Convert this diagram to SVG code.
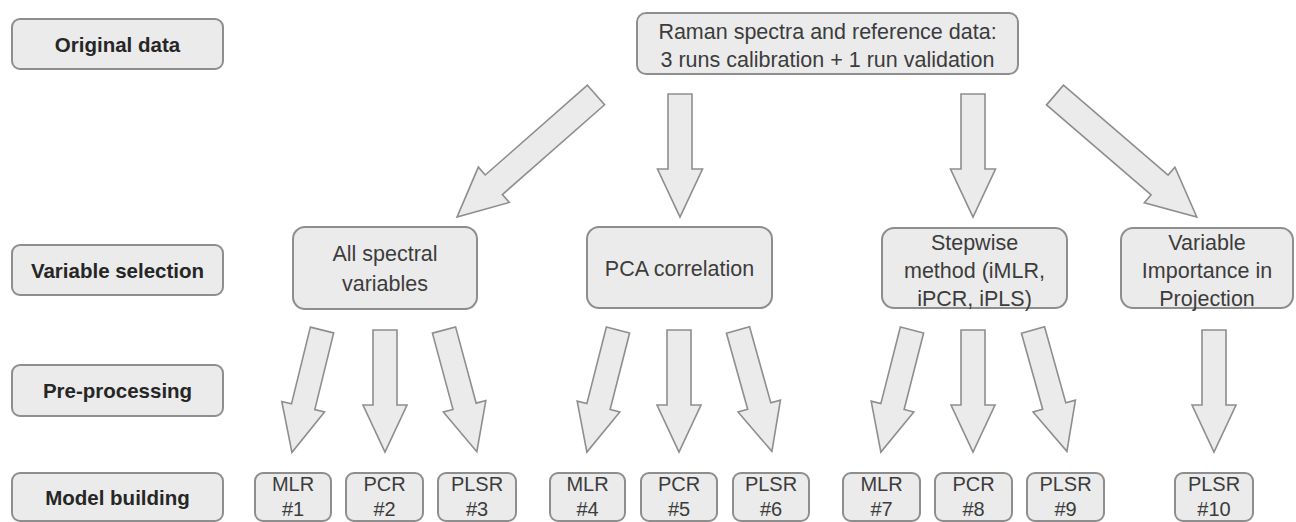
<svg xmlns="http://www.w3.org/2000/svg" width="1296" height="522" viewBox="0 0 1296 522">
<style>
.box{fill:#ebebeb;stroke:#8e8e8e;stroke-width:2}
.arr{fill:#ebebeb;stroke:#8e8e8e;stroke-width:1.6;stroke-linejoin:miter}
.lbl{font-family:"Liberation Sans",Arial,sans-serif;font-size:20.5px;font-weight:bold;fill:#262626;text-anchor:middle}
.t{font-family:"Liberation Sans",Arial,sans-serif;font-size:21.5px;fill:#3c3c3c;text-anchor:middle}
.m{font-family:"Liberation Sans",Arial,sans-serif;font-size:20px;fill:#3c3c3c;text-anchor:middle}
</style>
<rect width="1296" height="522" fill="#ffffff"/>
<g id="row-labels">
<g id="lbl-original"><rect class="box" x="12" y="19" width="211" height="50" rx="8"/><text class="lbl" x="117.5" y="51.5">Original data</text></g>
<g id="lbl-varsel"><rect class="box" x="12" y="245" width="211" height="50" rx="8"/><text class="lbl" x="117.5" y="277.5">Variable selection</text></g>
<g id="lbl-preproc"><rect class="box" x="12" y="365" width="211" height="51" rx="8"/><text class="lbl" x="117.5" y="398">Pre-processing</text></g>
<g id="lbl-model"><rect class="box" x="12" y="473" width="211" height="48" rx="8"/><text class="lbl" x="117.5" y="504.5">Model building</text></g>
</g>
<g id="n-top"><rect class="box" x="637" y="13" width="381" height="61" rx="9"/><text class="t" x="827.5" y="38.5">Raman spectra and reference data:</text><text class="t" x="827.5" y="66.5">3 runs calibration + 1 run validation</text></g>
<g id="n-all"><rect class="box" x="293" y="227" width="184" height="82" rx="12"/><text class="t" x="385" y="260.5">All spectral</text><text class="t" x="385" y="290.5">variables</text></g>
<g id="n-pca"><rect class="box" x="587" y="227" width="185" height="81" rx="12"/><text class="t" x="679.5" y="276">PCA correlation</text></g>
<g id="n-step"><rect class="box" x="882" y="228" width="185" height="80" rx="12"/><text class="t" x="974.5" y="249.5">Stepwise</text><text class="t" x="974.5" y="277.5">method (iMLR,</text><text class="t" x="974.5" y="305.5">iPCR, iPLS)</text></g>
<g id="n-vip"><rect class="box" x="1121" y="228" width="172" height="80" rx="12"/><text class="t" x="1207" y="249.5">Variable</text><text class="t" x="1207" y="277.5">Importance in</text><text class="t" x="1207" y="305.5">Projection</text></g>
<g id="n-m1"><rect class="box" x="255" y="473" width="76" height="48" rx="8"/><text class="m" x="293" y="491">MLR</text><text class="m" x="293" y="516">#1</text></g>
<g id="n-m2"><rect class="box" x="346" y="473" width="77" height="48" rx="8"/><text class="m" x="384.5" y="491">PCR</text><text class="m" x="384.5" y="516">#2</text></g>
<g id="n-m3"><rect class="box" x="438" y="473" width="78" height="48" rx="8"/><text class="m" x="477" y="491">PLSR</text><text class="m" x="477" y="516">#3</text></g>
<g id="n-m4"><rect class="box" x="550" y="473" width="75" height="48" rx="8"/><text class="m" x="587.5" y="491">MLR</text><text class="m" x="587.5" y="516">#4</text></g>
<g id="n-m5"><rect class="box" x="641" y="473" width="76" height="48" rx="8"/><text class="m" x="679" y="491">PCR</text><text class="m" x="679" y="516">#5</text></g>
<g id="n-m6"><rect class="box" x="733" y="473" width="76" height="48" rx="8"/><text class="m" x="771" y="491">PLSR</text><text class="m" x="771" y="516">#6</text></g>
<g id="n-m7"><rect class="box" x="843" y="473" width="77" height="48" rx="8"/><text class="m" x="881.5" y="491">MLR</text><text class="m" x="881.5" y="516">#7</text></g>
<g id="n-m8"><rect class="box" x="935" y="473" width="77" height="48" rx="8"/><text class="m" x="973.5" y="491">PCR</text><text class="m" x="973.5" y="516">#8</text></g>
<g id="n-m9"><rect class="box" x="1027" y="473" width="77" height="48" rx="8"/><text class="m" x="1065.5" y="491">PLSR</text><text class="m" x="1065.5" y="516">#9</text></g>
<g id="n-m10"><rect class="box" x="1175" y="473" width="78" height="48" rx="8"/><text class="m" x="1214" y="491">PLSR</text><text class="m" x="1214" y="516">#10</text></g>
<g id="connectors">
<path class="arr" transform="translate(596,95) rotate(48.7)" d="M-13,0 L13,0 L13,136 L23.5,136 L0,185 L-23.5,136 L-13,136 Z"/>
<path class="arr" transform="translate(680,94)" d="M-12,0 L12,0 L12,75 L22.5,75 L0,123 L-22.5,75 L-12,75 Z"/>
<path class="arr" transform="translate(973,94)" d="M-12,0 L12,0 L12,75 L22.5,75 L0,123 L-22.5,75 L-12,75 Z"/>
<path class="arr" transform="translate(1055,95) rotate(-49.3)" d="M-13,0 L13,0 L13,138 L23.5,138 L0,187 L-23.5,138 L-13,138 Z"/>
<path class="arr" transform="translate(322,330) rotate(13.8)" d="M-12,0 L12,0 L12,79 L22,79 L0,126 L-22,79 L-12,79 Z"/>
<path class="arr" transform="translate(385,330)" d="M-12,0 L12,0 L12,75 L22,75 L0,122 L-22,75 L-12,75 Z"/>
<path class="arr" transform="translate(444,330) rotate(-15.1)" d="M-12,0 L12,0 L12,79 L22,79 L0,126 L-22,79 L-12,79 Z"/>
<path class="arr" transform="translate(618,330) rotate(14.3)" d="M-12,0 L12,0 L12,79 L22,79 L0,126 L-22,79 L-12,79 Z"/>
<path class="arr" transform="translate(679,330)" d="M-12,0 L12,0 L12,75 L22,75 L0,122 L-22,75 L-12,75 Z"/>
<path class="arr" transform="translate(738,330) rotate(-15.6)" d="M-12,0 L12,0 L12,79 L22,79 L0,126 L-22,79 L-12,79 Z"/>
<path class="arr" transform="translate(912,330) rotate(14.3)" d="M-12,0 L12,0 L12,79 L22,79 L0,126 L-22,79 L-12,79 Z"/>
<path class="arr" transform="translate(973,330)" d="M-12,0 L12,0 L12,75 L22,75 L0,122 L-22,75 L-12,75 Z"/>
<path class="arr" transform="translate(1033,330) rotate(-15.6)" d="M-12,0 L12,0 L12,79 L22,79 L0,126 L-22,79 L-12,79 Z"/>
<path class="arr" transform="translate(1214,330)" d="M-12,0 L12,0 L12,75 L22,75 L0,122 L-22,75 L-12,75 Z"/>
</g>
</svg>
